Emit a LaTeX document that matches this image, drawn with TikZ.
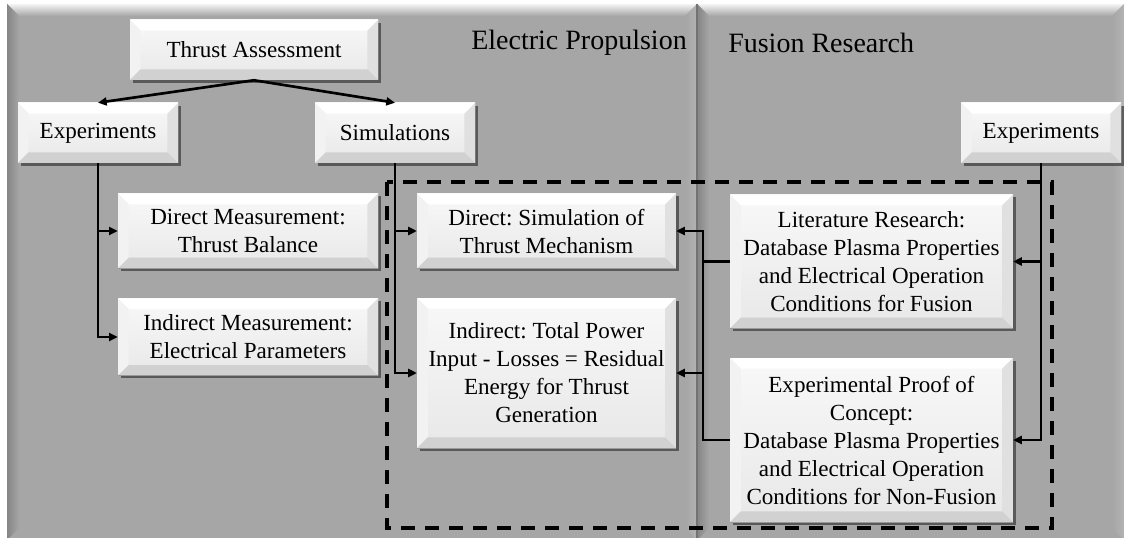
\documentclass[tikz,border=0pt]{standalone}
\usepackage{fontspec}
\setmainfont{Liberation Serif}
\usetikzlibrary{arrows.meta,shadows,calc}
\definecolor{panel}{HTML}{A6A6A6}
\definecolor{panelhi}{HTML}{F4F4F4}
\definecolor{panello}{HTML}{858585}
\definecolor{boxtop}{HTML}{F8F8F8}
\definecolor{boxbot}{HTML}{E8E8E8}
\tikzset{
  box/.style={draw=none, inner sep=2pt, align=center,
    font=\fontsize{17.3}{21}\selectfont\frenchspacing,
    top color=boxtop, bottom color=boxbot,
    drop shadow={shadow xshift=2pt, shadow yshift=-2pt, opacity=0.6, fill=black!85},
    path picture={
      \coordinate (bnw) at (path picture bounding box.north west);
      \coordinate (bne) at (path picture bounding box.north east);
      \coordinate (bsw) at (path picture bounding box.south west);
      \coordinate (bse) at (path picture bounding box.south east);
      \fill[white] (bnw) -- (bne) -- ([shift={(-8pt,-8pt)}]bne) -- ([shift={(8pt,-8pt)}]bnw) -- cycle;
      \fill[white!95!black] (bnw) -- ([shift={(8pt,-8pt)}]bnw) -- ([shift={(8pt,8pt)}]bsw) -- (bsw) -- cycle;
      \fill[white!88!black] (bne) -- ([shift={(-8pt,-8pt)}]bne) -- ([shift={(-8pt,8pt)}]bse) -- (bse) -- cycle;
      \fill[white!82!black] (bsw) -- ([shift={(8pt,8pt)}]bsw) -- ([shift={(-8pt,8pt)}]bse) -- (bse) -- cycle;
      \draw[white!60!black, line width=0.6pt] (bsw) -- (bse);
    }},
  conn/.style={draw=black, line width=2pt},
  arr/.style={-{Triangle[length=6.5pt,width=6pt]}},
  title/.style={font=\fontsize{21}{25}\selectfont, inner sep=0pt},
  dashbox/.style={draw=black, line width=2.6pt, dash pattern=on 10.5pt off 7.5pt},
}
\begin{document}
\frenchspacing
\begin{tikzpicture}[x=0.75pt,y=-0.75pt]
\useasboundingbox (0,0) rectangle (1126,538);
\fill[white] (0,0) rectangle (1126,538);
\begin{scope}
\clip (0,0) rectangle (1126,538);
% left panel
\fill[panel] (7,4) rectangle (697,545);
\shade[top color=panelhi, bottom color=panel] (7,4) -- (697,4) -- (685,16) -- (19,16) -- cycle;
\shade[left color=panello, right color=panel] (7,4) -- (19,16) -- (19,528) -- (7,540) -- cycle;
\shade[left color=panel, right color=panel!85!white] (697,4) -- (685,16) -- (685,528) -- (697,540) -- cycle;
% right panel
\fill[panel] (697,4) rectangle (1124,545);
\shade[top color=panelhi, bottom color=panel] (697,4) -- (1124,4) -- (1112,16) -- (709,16) -- cycle;
\shade[left color=panello, right color=panel] (697,4) -- (709,16) -- (709,528) -- (697,540) -- cycle;
\shade[left color=panel, right color=panel!85!white] (1124,4) -- (1112,16) -- (1112,528) -- (1124,540) -- cycle;
\draw[black!55, line width=0.8pt] (697,4) -- (697,545);
\end{scope}

\node[title, anchor=east] (eptitle) at (687,43) {Electric Propulsion};
\node[title, anchor=west] (frtitle) at (728,43) {Fusion Research};

\node[box, minimum width=186pt, minimum height=45pt] (ta) at (254,50) {Thrust Assessment};
\node[box, minimum width=120pt, minimum height=45pt] (expl) at (98,133) {Experiments};
\node[box, minimum width=120pt, minimum height=45pt] (sim) at (395,133) {Simulations};
\node[box, minimum width=120pt, minimum height=45pt] (expr) at (1041,133) {Experiments};

\node[box, minimum width=195pt, minimum height=56pt] (dm) at (248,231) {Direct Measurement:\\Thrust Balance};
\node[box, minimum width=195pt, minimum height=58pt] (im) at (248,337) {Indirect Measurement:\\Electrical Parameters};

\node[box, minimum width=194pt, minimum height=56pt] (ds) at (546.5,231) {Direct: Simulation of\\Thrust Mechanism};
\node[box, minimum width=194pt, minimum height=112.5pt] (is) at (546.5,373) {Indirect: Total Power\\Input - Losses = Residual\\Energy for Thrust\\Generation};

\node[box, minimum width=212pt, minimum height=100pt] (lr) at (871.5,261.5) {Literature Research:\\Database Plasma Properties\\and Electrical Operation\\Conditions for Fusion};
\node[box, minimum width=212pt, minimum height=123pt] (ep) at (871.5,440) {Experimental Proof of\\Concept:\\Database Plasma Properties\\and Electrical Operation\\Conditions for Non-Fusion};

\draw[conn,arr] (ta.south) -- (expl.north);
\draw[conn,arr] (ta.south) -- (sim.north);
\draw[conn,arr] (expl.south) |- (dm.west);
\draw[conn,arr] (expl.south) |- (im.west);
\draw[conn,arr] (sim.south) |- (ds.west);
\draw[conn,arr] (sim.south) |- (is.west);
\draw[conn,arr] (expr.south) |- (lr.east);
\draw[conn,arr] (expr.south) |- (ep.east);
\coordinate (bus) at (703,300);
\draw[conn] (lr.west) -- (lr.west -| bus);
\draw[conn,arr] (ep.west) -| (bus |- ds.east) -- (ds.east);
\draw[conn,arr] (bus |- is.east) -- (is.east);

\draw[dashbox] (387,182) rectangle (1052,528);
\end{tikzpicture}
\end{document}
